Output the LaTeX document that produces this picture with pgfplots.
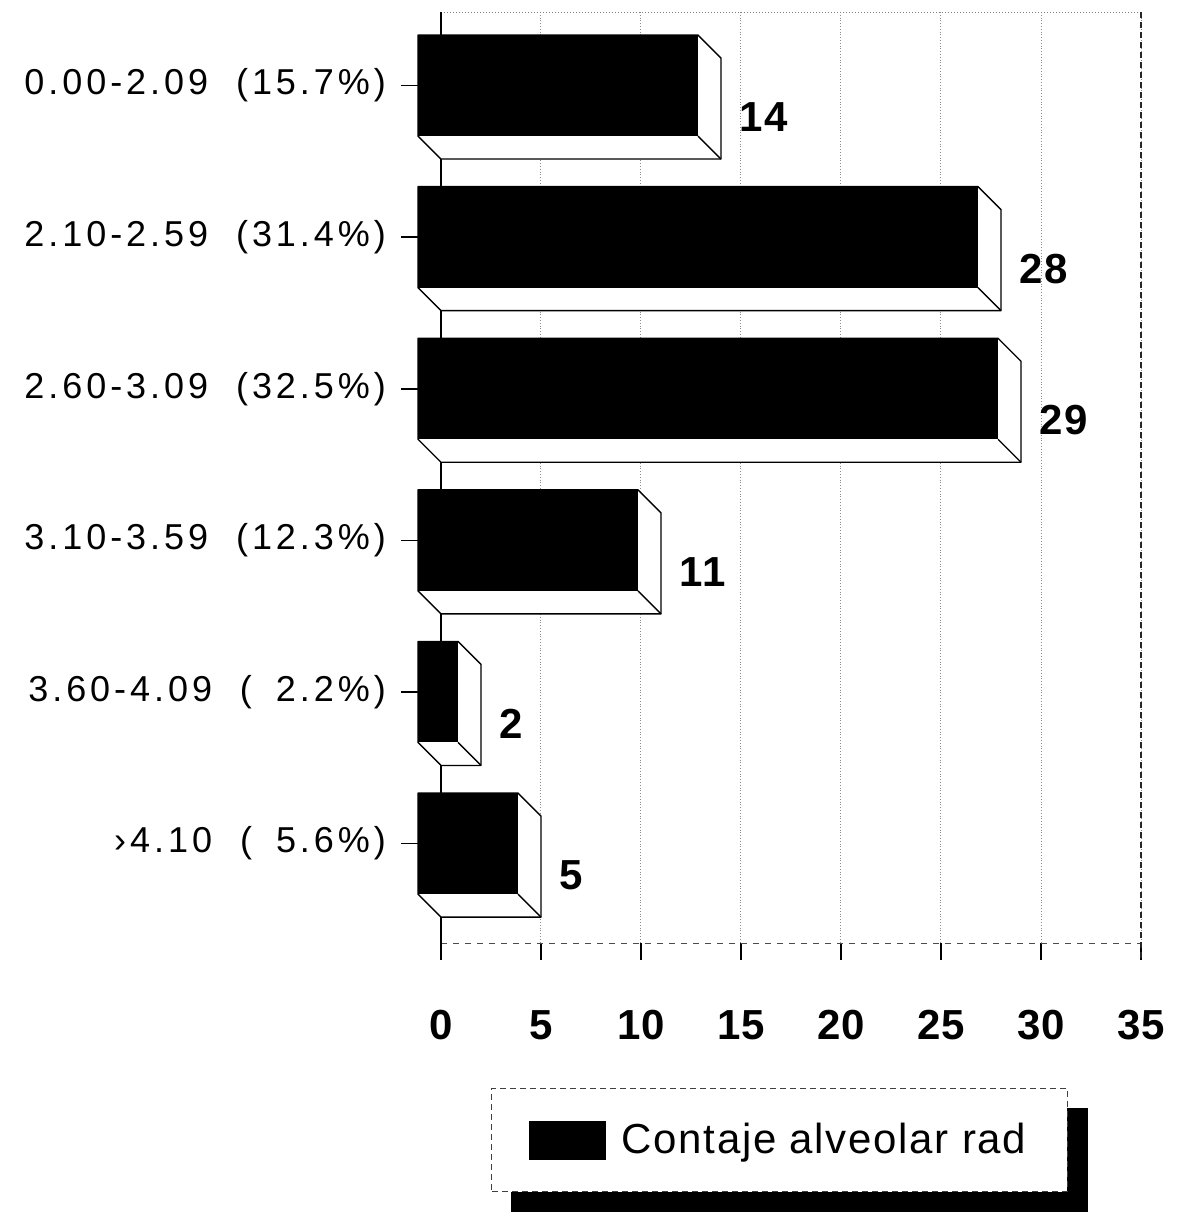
\documentclass[border=0pt]{standalone}
\usepackage{fontspec}
\setmainfont{Liberation Sans}
\newfontfamily\catfont[LetterSpace=11]{Liberation Sans}
\newfontfamily\valfont[LetterSpace=4]{Liberation Sans}
\newfontfamily\tickfont[LetterSpace=2]{Liberation Sans}
\usepackage{pgfplots}
\usepackage{pgfplotstable}
\pgfplotsset{compat=1.18}
\usetikzlibrary{backgrounds}

% 3-D bar drawn at each data point (x = value, y = category);
% \barlen is the value of the current point
\pgfdeclareplotmark{bar3d}{%
  \pgfmathsetmacro\barL{10*\barlen}%
  \pgfsetlinewidth{0.7pt}\pgfsetroundjoin
  \pgfsetstrokecolor{black}\pgfsetfillcolor{white}%
  \pgfpathmoveto{\pgfpoint{-\barL pt-11.5pt}{25.25pt}}%
  \pgfpathlineto{\pgfpoint{-11.5pt}{25.25pt}}%
  \pgfpathlineto{\pgfpoint{0pt}{13.75pt}}%
  \pgfpathlineto{\pgfpoint{0pt}{-36.75pt}}%
  \pgfpathlineto{\pgfpoint{-\barL pt}{-36.75pt}}%
  \pgfpathlineto{\pgfpoint{-\barL pt-11.5pt}{-25.25pt}}%
  \pgfpathclose
  \pgfusepath{fill,stroke}%
  \pgfpathmoveto{\pgfpoint{-11.5pt}{-25.25pt}}%
  \pgfpathlineto{\pgfpoint{0pt}{-36.75pt}}%
  \pgfusepath{stroke}%
  \pgfsetfillcolor{black}%
  \pgfpathrectangle{\pgfpoint{-\barL pt-11.5pt}{-25.25pt}}{\pgfpoint{\barL pt}{50.5pt}}%
  \pgfusepath{fill}%
}

\pgfplotstableread{
cat v
0 14
1 28
2 29
3 11
4 2
5 5
}\radtable

\newcommand{\fs}{\hphantom{0}\kern2pt}

\begin{document}
\begin{tikzpicture}
\useasboundingbox (0,0) rectangle (590.5pt,606pt);
\begin{axis}[
  at={(220.5pt,134.5pt)}, anchor=south west,
  scale only axis, width=350pt, height=465.5pt,
  xmin=0, xmax=35, ymin=-0.485, ymax=5.656, y dir=reverse,
  axis line style={draw=none},
  clip=false,
  xtick={0,5,...,35},
  ytick={0,1,2,3,4,5},
  yticklabels={
    0.00-2.09~~(15.7\%),
    2.10-2.59~~(31.4\%),
    2.60-3.09~~(32.5\%),
    3.10-3.59~~(12.3\%),
    3.60-4.09~~(\fs2.2\%),
    ›4.10~~(\fs5.6\%)},
  xtick pos=left, ytick pos=left,
  tick align=outside, major tick length=8.5pt,
  tick style={black, line width=0.8pt},
  ytick style={xshift=-11.5pt},
  xmajorgrids,
  grid style={densely dotted, black!45, line width=0.5pt},
  /pgf/number format/assume math mode=true,
  xticklabel style={font=\tickfont\bfseries\fontsize{21}{24}\selectfont,
    anchor=north, text height=15pt, text depth=0pt, yshift=-21pt},
  yticklabel style={font=\catfont\fontsize{18}{21}\selectfont, anchor=east, xshift=-15.5pt},
  legend style={
    name=lgd,
    at={(0.4836,-0.1557)}, anchor=north,
    draw=black!75, densely dashed, line width=0.5pt, fill=white,
    inner xsep=18.5pt, inner ysep=15.5pt,
    font=\valfont\fontsize{21}{24}\selectfont,
    nodes={solid},
  },
  legend image code/.code={%
    \fill[black, draw=none] (0pt,-9.75pt) rectangle (38.5pt,9.75pt);
    \path[draw=none, fill=none] (0pt,0pt) -- (44.5pt,0pt);},
]
% frame of the plot area
\draw[black!70, dashed, line width=0.5pt] (axis cs:0,5.656) -- (axis cs:35,5.656);
\draw[black!50, densely dotted, line width=0.5pt] (axis cs:0,-0.485) -- (axis cs:35,-0.485);
\draw[black, line width=1pt] (axis cs:0,-0.485) -- ([yshift=-8.5pt]axis cs:0,5.656);
\draw[black!85, densely dashed, line width=0.8pt] (axis cs:35,-0.485) -- ([yshift=-8.5pt]axis cs:35,5.656);

% 3-D bars with their values
\addplot[
  only marks, mark=bar3d,
  point meta=x,
  visualization depends on={\thisrow{v} \as \barlen},
  nodes near coords={\pgfmathprintnumber{\pgfplotspointmeta}},
  every node near coord/.append style={anchor=west, inner sep=0pt,
    xshift=9pt, yshift=-15.75pt,
    font=\valfont\bfseries\fontsize{21}{24}\selectfont, text=black},
] table[x=v, y=cat] {\radtable};
\addlegendentry{Contaje alveolar rad}
\end{axis}
% shadow behind the legend box
\begin{scope}[on background layer]
  \fill[black] ([shift={(10pt,-10pt)}]lgd.south west) rectangle ([shift={(10pt,-10pt)}]lgd.north east);
\end{scope}
\end{tikzpicture}
\end{document}
